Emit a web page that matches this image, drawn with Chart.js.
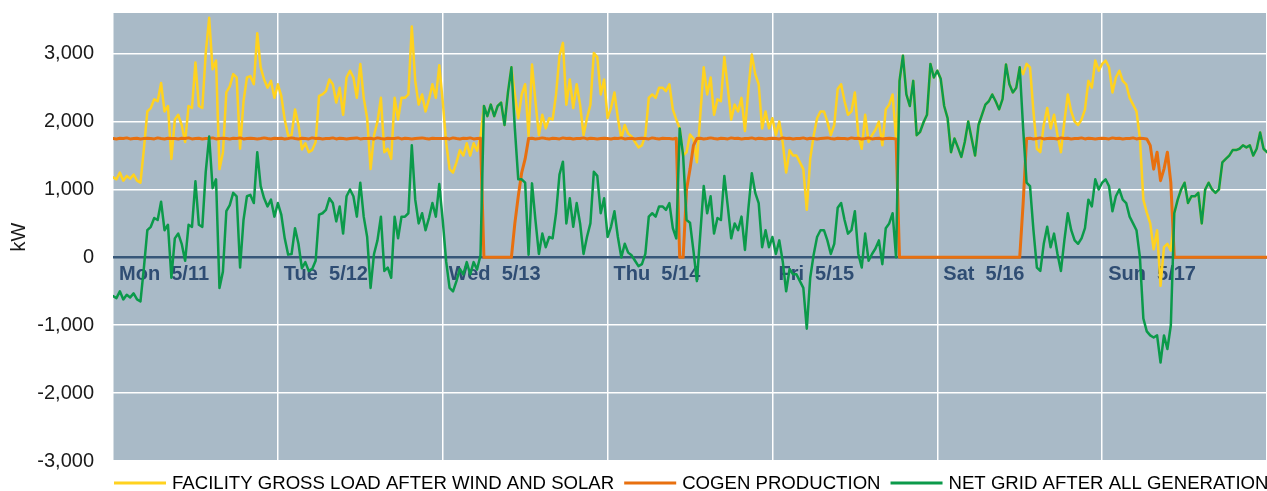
<!DOCTYPE html>
<html>
<head>
<meta charset="utf-8">
<title>Facility load, cogen and net grid</title>
<script src="https://cdn.jsdelivr.net/npm/chart.js@4.4.0/dist/chart.umd.min.js"></script>
<style>
html,body{margin:0;padding:0;background:#ffffff;}
canvas{display:block;}
</style>
</head>
<body>
<canvas id="chart" width="1267" height="491"></canvas>
<script>
// ---------- DATA (half-hourly readings, Mon 5/11 00:00 -> Mon 5/18 00:00) ----------
const dayLabels = ['Mon  5/11', 'Tue  5/12', 'Wed  5/13', 'Thu  5/14', 'Fri  5/15', 'Sat  5/16', 'Sun  5/17'];
const seriesNames = ['FACILITY GROSS LOAD AFTER WIND AND SOLAR', 'COGEN PRODUCTION', 'NET GRID AFTER ALL GENERATION'];
const yTickValues = [-3000, -2000, -1000, 0, 1000, 2000, 3000];
const hoursPerPoint = 0.5;
const hoursPerDay = 24;

const grossLoad = [
  1180,1150,1250,1130,1200,1160,1220,1130,1100,1600,2150,2200,2330,2300,2570,2150,2230,1450,2030,2100,1950,1700,2230,2200,2870,2230,2200,3010,3530,2770,2900,1300,1540,2430,2520,2700,2650,1600,2300,2650,2670,2550,3300,2800,2620,2500,2600,2350,
  2550,2380,2030,1790,1800,2180,1950,1590,1680,1550,1580,1700,2380,2400,2450,2620,2550,2280,2500,2100,2650,2750,2650,2350,2850,2350,2050,1300,1800,2000,2350,1550,1600,1450,2350,2030,2350,2350,2400,3400,2600,2250,2400,2150,2330,2550,2350,2830,
  2300,1690,1300,1250,1400,1580,1500,1680,1500,1680,1570,1780,2230,2080,2250,2080,2230,2280,1950,2430,2800,2400,2050,2400,2550,1790,2840,2300,1800,2100,1900,2050,2030,2400,2970,3160,2250,2620,2200,2550,2250,1800,2050,2250,3010,2950,2400,2620,
  2050,2200,2430,2050,1750,1950,1820,1780,1700,1620,1650,1800,2350,2400,2350,2500,2500,2450,2550,2180,2030,1900,1500,1550,1810,1750,1400,2100,2800,2400,2650,2100,2330,2300,2950,2500,2030,2250,2150,2350,1860,2470,2990,2700,2550,1900,2150,1900,
  2050,1800,2000,1690,1250,1580,1500,1500,1400,1300,700,1450,1790,2050,2150,2150,2000,1800,1950,2480,2550,2300,2100,2150,2430,1800,1600,2100,1700,1800,1880,2000,1650,2180,2250,2400,1750,2600,2970,2400,2230,2600,1800,1850,1990,2100,2850,2650,
  2750,2630,2230,2050,1550,1750,1620,1480,1700,2000,1750,1500,1950,2100,2250,2300,2400,2300,2180,2330,2840,2550,2430,2500,2800,2700,2850,2800,2150,1600,1550,1950,2200,1900,2100,1800,1550,2000,2400,2150,2000,1950,2030,2180,2600,2500,2900,2750,
  2850,2900,2800,2430,2650,2750,2600,2550,2350,2250,2150,1750,850,660,500,120,400,-420,150,200,100,650,850,1000,1100,800,900,900,950,500,1000,1100,1000,950,1000,1400,1450,1500,1580,1580,1600,1650,1620,1650,1500,1600,1840,1600,1550
];

const cogenProduction = [
  1750,1745,1755,1750,1760,1745,1750,1755,1745,1750,1755,1750,1745,1760,1750,1745,1755,1750,1750,1745,1755,1750,1760,1745,1750,1755,1745,1750,1750,1760,1745,1750,1755,1750,1745,1755,1750,1760,1745,1750,1755,1750,1745,1750,1760,1750,1745,1755,
  1750,1755,1745,1750,1760,1750,1745,1755,1750,1745,1760,1750,1755,1745,1750,1750,1760,1745,1755,1750,1745,1750,1755,1760,1745,1750,1750,1755,1745,1760,1750,1745,1755,1750,1750,1760,1745,1755,1750,1745,1750,1755,1760,1750,1745,1755,1750,1750,
  1750,1755,1745,1760,1750,1745,1755,1750,1760,1745,1750,1755,0,0,0,0,0,0,0,0,0,500,900,1250,1450,1750,1755,1745,1750,1760,1750,1745,1755,1750,1745,1760,1750,1755,1745,1750,1750,1760,1745,1755,1750,1745,1750,1755,
  1750,1745,1755,1750,1760,1745,1750,1755,1745,1750,1755,1750,1745,1760,1750,1745,1755,1750,1750,1745,1755,0,0,1000,1300,1650,1750,1755,1745,1750,1760,1750,1745,1755,1750,1745,1760,1750,1755,1745,1750,1750,1760,1745,1755,1750,1745,1750,
  1755,1750,1745,1760,1750,1755,1745,1750,1750,1760,1745,1755,1750,1745,1750,1755,1760,1750,1745,1755,1750,1750,1745,1760,1750,1755,1745,1750,1760,1745,1750,1755,1745,1750,1755,1750,1745,0,0,0,0,0,0,0,0,0,0,0,
  0,0,0,0,0,0,0,0,0,0,0,0,0,0,0,0,0,0,0,0,0,0,0,0,0,800,1750,1755,1745,1750,1760,1745,1750,1755,1750,1745,1760,1750,1755,1745,1750,1750,1760,1745,1755,1750,1745,1750,
  1755,1750,1745,1760,1750,1755,1745,1750,1750,1760,1745,1755,1750,1745,1650,1300,1550,1130,1300,1550,1100,0,0,0,0,0,0,0,0,0,0,0,0,0,0,0,0,0,0,0,0,0,0,0,0,0,0,0,0
];

const netGrid = [
  -570,-600,-500,-620,-550,-590,-530,-620,-650,-150,400,450,580,550,820,400,480,-300,280,350,200,-50,480,450,1120,480,450,1260,1780,1020,1150,-450,-210,680,770,950,900,-150,550,900,920,800,1550,1050,870,750,850,600,
  800,630,280,40,50,430,200,-160,-70,-200,-170,-50,630,650,700,870,800,530,750,350,900,1000,900,600,1100,600,300,-450,50,250,600,-200,-150,-300,600,280,600,600,650,1650,850,500,650,400,580,800,600,1080,
  550,-60,-450,-500,-350,-170,-250,-70,-250,-70,-180,30,2230,2080,2250,2080,2230,2280,1950,2430,2800,1900,1150,1150,1100,40,1090,550,50,350,150,300,280,650,1220,1410,500,870,450,800,500,50,300,500,1260,1200,650,870,
  300,450,680,300,0,200,70,30,-50,-130,-100,50,600,650,600,750,750,700,800,430,280,1900,1500,550,510,100,-350,350,1050,650,900,350,580,550,1200,750,280,500,400,600,110,720,1240,950,800,150,400,150,
  300,50,250,-60,-500,-170,-250,-250,-350,-450,-1050,-300,40,300,400,400,250,50,200,730,800,550,350,400,680,50,-150,350,-50,50,130,250,-100,430,500,650,0,2600,2970,2400,2230,2600,1800,1850,1990,2100,2850,2650,
  2750,2630,2230,2050,1550,1750,1620,1480,1700,2000,1750,1500,1950,2100,2250,2300,2400,2300,2180,2330,2840,2550,2430,2500,2800,1900,1100,1050,400,-150,-200,200,450,150,350,50,-200,250,650,400,250,200,280,430,850,750,1150,1000,
  1100,1150,1050,680,900,1000,850,800,600,500,400,0,-900,-1090,-1150,-1180,-1150,-1550,-1150,-1350,-1000,650,850,1000,1100,800,900,900,950,500,1000,1100,1000,950,1000,1400,1450,1500,1580,1580,1600,1650,1620,1650,1500,1600,1840,1600,1550
];

// ---------- STYLE ----------
const FONT = '"Liberation Sans", Arial, Helvetica, sans-serif';
const colors = { gross: '#FFD21F', cogen: '#E8700F', net: '#0B9A4A', plotBg: '#A9BAC7', zero: '#375779', dayText: '#2F4D73' };

const toPoints = arr => arr.map((v, i) => ({ x: i * hoursPerPoint, y: v }));
const totalHours = dayLabels.length * hoursPerDay;

const plotBackground = {
  id: 'plotBackground',
  beforeDraw(chart) {
    const { ctx, chartArea: a } = chart;
    ctx.save();
    ctx.fillStyle = colors.plotBg;
    ctx.fillRect(a.left, a.top, a.right - a.left, a.bottom - a.top);
    ctx.restore();
  }
};

const dayLabelPlugin = {
  id: 'dayLabelPlugin',
  beforeDatasetsDraw(chart) {
    const { ctx, scales: { x, y } } = chart;
    const y0 = y.getPixelForValue(0);
    ctx.save();
    ctx.font = 'bold 20px ' + FONT;
    ctx.fillStyle = colors.dayText;
    ctx.textAlign = 'left';
    ctx.textBaseline = 'middle';
    dayLabels.forEach((lab, d) => {
      ctx.fillText(lab, x.getPixelForValue(d * hoursPerDay) + 6, y0 + 17);
    });
    ctx.restore();
  }
};

const customLegend = {
  id: 'customLegend',
  afterDraw(chart) {
    const { ctx } = chart;
    const yc = 483;
    let xPos = 114;
    ctx.save();
    ctx.font = '18.6px ' + FONT;
    ctx.textBaseline = 'middle';
    ctx.textAlign = 'left';
    chart.data.datasets.forEach(ds => {
      ctx.strokeStyle = ds.borderColor;
      ctx.lineWidth = 3;
      ctx.beginPath();
      ctx.moveTo(xPos, yc);
      ctx.lineTo(xPos + 52, yc);
      ctx.stroke();
      ctx.fillStyle = '#000000';
      ctx.fillText(ds.label, xPos + 58, yc + 1);
      xPos += 58 + ctx.measureText(ds.label).width + 10;
    });
    ctx.restore();
  }
};

new Chart(document.getElementById('chart'), {
  type: 'line',
  data: {
    datasets: [
      { label: seriesNames[0], data: toPoints(grossLoad), borderColor: colors.gross, borderWidth: 2.5, order: 3 },
      { label: seriesNames[1], data: toPoints(cogenProduction), borderColor: colors.cogen, borderWidth: 3, order: 2 },
      { label: seriesNames[2], data: toPoints(netGrid), borderColor: colors.net, borderWidth: 2.5, order: 1 }
    ]
  },
  options: {
    responsive: false,
    animation: false,
    devicePixelRatio: 1,
    layout: { padding: { top: 13, right: 0, bottom: 30, left: 0 } },
    elements: {
      point: { radius: 0, hoverRadius: 0 },
      line: { tension: 0, borderJoinStyle: 'round', borderCapStyle: 'round', fill: false }
    },
    plugins: { legend: { display: false }, tooltip: { enabled: false } },
    scales: {
      x: {
        type: 'linear',
        min: 0,
        max: totalHours,
        ticks: { display: false, stepSize: hoursPerDay },
        grid: { color: '#FFFFFF', lineWidth: 1.5, drawTicks: false },
        border: { display: false },
        afterFit(scale) { scale.height = 0; scale.paddingLeft = 0; scale.paddingRight = 0; }
      },
      y: {
        min: -3000,
        max: 3600,
        afterBuildTicks(scale) { scale.ticks = yTickValues.map(v => ({ value: v })); },
        ticks: {
          padding: 19,
          color: '#1a1a1a',
          font: { family: FONT, size: 20 },
          callback: v => v.toLocaleString('en-US')
        },
        grid: {
          drawTicks: false,
          color: c => (c.tick && c.tick.value === 0) ? colors.zero : '#FFFFFF',
          lineWidth: c => (c.tick && c.tick.value === 0) ? 2.5 : 1.5
        },
        border: { display: false },
        title: { display: true, text: 'kW', color: '#1a1a1a', font: { family: FONT, size: 20 }, padding: { top: 7, bottom: 0 } },
        afterFit(scale) { scale.width = 113; scale.paddingTop = 0; scale.paddingBottom = 0; }
      }
    }
  },
  plugins: [plotBackground, dayLabelPlugin, customLegend]
});
</script>
</body>
</html>
